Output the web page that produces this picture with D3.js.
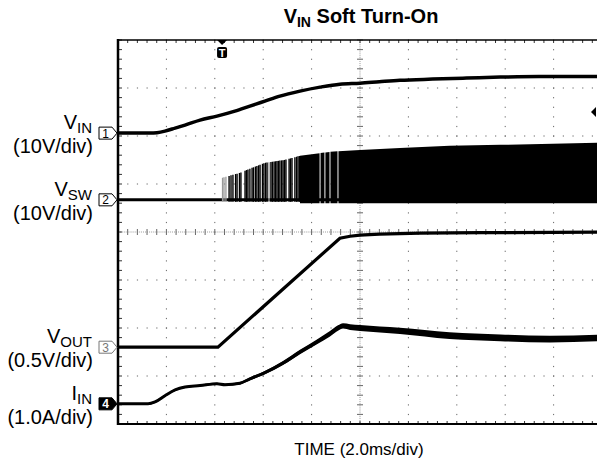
<!DOCTYPE html>
<html><head><meta charset="utf-8">
<script src="https://cdn.jsdelivr.net/npm/d3@7"></script>
<style>body{margin:0;background:#fff} text{font-family:"Liberation Sans",Arial,Helvetica,sans-serif}</style>
</head><body><svg id="c" width="597" height="463"></svg>
<script>
// ---- data (time in ms, 2.0 ms/div) ----
const vinT = [0, 1.32, 1.61, 1.94, 2.36, 2.77, 3.39, 4.09, 4.83, 5.45, 6.07, 6.69, 7.52, 8.35, 9.17, 10.0, 10.8, 11.65, 13.0, 14.4, 15.8, 17.4, 20];
const vinV = [0, 0, 0.1, 0.42, 1.04, 1.67, 2.71, 3.54, 4.58, 5.63, 6.67, 7.71, 8.75, 9.58, 10.2, 10.4, 10.7, 11.0, 11.25, 11.46, 11.67, 11.8, 11.8];

const voutT = [0, 4.13, 9.17, 9.59, 10.0, 10.8, 12.5, 15.0, 20];
const voutV = [0, 0, 1.135, 1.156, 1.167, 1.177, 1.1875, 1.193, 1.198];

const iinT = [0, 1.24, 1.53, 1.94, 2.36, 2.77, 3.39, 4.09, 4.42, 5.04, 5.45, 6.07, 6.82, 7.52, 8.22, 8.76, 9.09, 9.30, 9.59, 10.0, 11.65, 13.7, 15.8, 17.85, 20];
const iinA = [0, 0, 0.04, 0.17, 0.29, 0.35, 0.38, 0.42, 0.40, 0.43, 0.52, 0.65, 0.85, 1.08, 1.29, 1.46, 1.58, 1.625, 1.60, 1.58, 1.52, 1.42, 1.375, 1.35, 1.375];
const iinBand = [0.02, 0.02, 0.02, 0.02, 0.02, 0.02, 0.02, 0.02, 0.02, 0.025, 0.03, 0.035, 0.04, 0.045, 0.05, 0.055, 0.055, 0.055, 0.06, 0.06, 0.065, 0.07, 0.07, 0.07, 0.07];

// switch node: individual pulses while sparse, then a dense envelope
const vswPulseT = [4.59, 4.67, 4.75, 4.86, 4.92, 5.02, 5.08, 5.25, 5.31, 5.37, 5.45, 5.54, 5.60, 5.68, 5.74, 5.81, 5.87, 5.97, 6.03, 6.10, 6.16, 6.32, 6.38, 6.45, 6.51, 6.57, 6.63, 6.69, 6.76, 6.82, 6.88, 6.94, 7.07, 7.13, 7.19, 7.31, 7.38, 7.44, 7.50];
const vswGrayPulseT = [4.32, 4.38, 4.46, 6.24];
const vswDenseStart = [7.52, 8.37, 8.57, 8.78, 9.11];
const vswDenseEnd = [8.33, 8.53, 8.74, 9.07, 20];
const vswEnvT = [4.30, 5.04, 5.33, 6.07, 6.90, 7.52, 8.76, 10.0, 11.65, 13.7, 15.8, 20];
const vswEnvV = [4.58, 5.63, 6.25, 7.71, 8.33, 9.17, 10.0, 10.4, 10.8, 11.25, 11.46, 11.9];
const vswLowV = -0.7;

// channels: ground offset (divisions from centre) and units per division
const chNames = ["1", "2", "3", "4"];
const chOffsetDiv = [2.06, 0.67, -2.40, -3.58];
const chPerDiv = [10, 10, 0.5, 1.0];
const chLabel = ["V", "V", "V", "I"];
const chSub = ["IN", "SW", "OUT", "IN"];
const chScaleText = ["(10V/div)", "(10V/div)", "(0.5V/div)", "(1.0A/div)"];

const title = ["V", "IN", " Soft Turn-On"];
const xTitle = "TIME (2.0ms/div)";
const triggerT = 4.3;

// ---- layout ----
const L = 118, R = 602, T = 40, B = 424, W = 597;
const svg = d3.select("#c");
const x = d3.scaleLinear().domain([0, 20]).range([L, R]);
const yDiv = d3.scaleLinear().domain([-4, 4]).range([B, T]);
const yCh = (ch, v) => yDiv(chOffsetDiv[ch] + v / chPerDiv[ch]);

svg.append("defs").append("clipPath").attr("id", "clip")
  .append("rect").attr("x", L).attr("y", T).attr("width", W - L).attr("height", B - T);

// ---- graticule ----
const g = svg.append("g");
const dx = (R - L) / 50, dy = (B - T) / 40;
const minorX = d3.range(0, 51).map(i => L + i * dx).filter(v => v <= W);
const minorY = d3.range(0, 41).map(i => T + i * dy);
const col = "#666";
for (let i = 1; i < 10; i++) {
  const gx = L + i * dx * 5;
  if (gx > W || i === 5) continue;
  minorY.forEach(yy => g.append("rect").attr("x", gx - 0.5).attr("y", yy - 0.5).attr("width", 1).attr("height", 1.2).attr("fill", col));
}
for (let j = 1; j < 8; j++) {
  const gy = T + j * dy * 5;
  if (j === 4) continue;
  minorX.forEach(xx => g.append("rect").attr("x", xx - 0.5).attr("y", gy - 0.5).attr("width", 1.2).attr("height", 1).attr("fill", col));
}
const cx = L + 25 * dx, cy = T + 20 * dy;
minorY.forEach(yy => g.append("line").attr("x1", cx - 3).attr("x2", cx + 3).attr("y1", yy).attr("y2", yy).attr("stroke", col).attr("stroke-width", 1));
d3.range(0, 200).map(i => T + i * dy / 5).forEach(yy => g.append("rect").attr("x", cx - 0.5).attr("y", yy).attr("width", 1).attr("height", 0.8).attr("fill", "#888"));
minorX.forEach(xx => g.append("line").attr("x1", xx).attr("x2", xx).attr("y1", cy - 3).attr("y2", cy + 3).attr("stroke", col).attr("stroke-width", 1));
d3.range(0, 250).map(i => L + i * dx / 5).filter(v => v <= W).forEach(xx => g.append("rect").attr("x", xx).attr("y", cy - 0.5).attr("width", 0.8).attr("height", 1).attr("fill", "#888"));
minorX.forEach(xx => {
  g.append("line").attr("x1", xx).attr("x2", xx).attr("y1", T).attr("y2", T + 3).attr("stroke", "#333");
  g.append("line").attr("x1", xx).attr("x2", xx).attr("y1", B).attr("y2", B - 3).attr("stroke", "#333");
});
minorY.forEach(yy => g.append("line").attr("x1", L).attr("x2", L + 4).attr("y1", yy).attr("y2", yy).attr("stroke", "#333"));

// ---- traces ----
const tr = svg.append("g").attr("clip-path", "url(#clip)");

tr.append("line").attr("x1", x(0)).attr("x2", x(20)).attr("y1", yCh(1, 0)).attr("y2", yCh(1, 0))
  .attr("stroke", "#000").attr("stroke-width", 3);
const env = d3.scaleLinear().domain(vswEnvT).range(vswEnvV).clamp(true);
vswGrayPulseT.forEach(t => tr.append("line").attr("x1", x(t)).attr("x2", x(t))
  .attr("y1", yCh(1, vswLowV * 0.5)).attr("y2", yCh(1, env(t))).attr("stroke", "#999").attr("stroke-width", 1.3));
vswPulseT.forEach(t => tr.append("line").attr("x1", x(t)).attr("x2", x(t))
  .attr("y1", yCh(1, vswLowV * 0.6)).attr("y2", yCh(1, env(t))).attr("stroke", "#000").attr("stroke-width", 1.4));
const area = d3.area().x(d => x(d)).y0(() => yCh(1, vswLowV)).y1(d => yCh(1, env(d)));
vswDenseStart.forEach((s, i) => {
  const e = vswDenseEnd[i];
  const pts = [s, ...vswEnvT.filter(t => t > s && t < e), e];
  tr.append("path").attr("d", area(pts)).attr("fill", "#000");
});

const line = d3.line().curve(d3.curveMonotoneX);
tr.append("path").attr("d", line(vinT.map((t, i) => [x(t), yCh(0, vinV[i])])))
  .attr("fill", "none").attr("stroke", "#000").attr("stroke-width", 3.5);
tr.append("path").attr("d", d3.line()(voutT.map((t, i) => [x(t), yCh(2, voutV[i])])))
  .attr("fill", "none").attr("stroke", "#000").attr("stroke-width", 3.2);
const iinArea = d3.area().curve(d3.curveMonotoneX).x((d, i) => x(iinT[i]))
  .y0((d, i) => yCh(3, iinA[i] - iinBand[i])).y1((d, i) => yCh(3, iinA[i] + iinBand[i]));
tr.append("path").attr("d", iinArea(iinT)).attr("fill", "#000");
tr.append("path").attr("d", line(iinT.map((t, i) => [x(t), yCh(3, iinA[i])])))
  .attr("fill", "none").attr("stroke", "#000").attr("stroke-width", 3);

// ---- borders ----
svg.append("line").attr("x1", L).attr("x2", W).attr("y1", T).attr("y2", T).attr("stroke", "#000").attr("stroke-width", 1.5);
svg.append("line").attr("x1", L).attr("x2", W).attr("y1", B).attr("y2", B).attr("stroke", "#000").attr("stroke-width", 2);
svg.append("line").attr("x1", L).attr("x2", L).attr("y1", T - 1).attr("y2", B + 1).attr("stroke", "#000").attr("stroke-width", 2.5);

// trigger marker
const tx = x(triggerT);
svg.append("path").attr("d", `M${tx - 5},${T} L${tx + 5},${T} L${tx},${T + 5} Z`).attr("fill", "#000");
svg.append("rect").attr("x", tx - 5).attr("y", T + 7).attr("width", 10).attr("height", 11).attr("rx", 2).attr("fill", "#000");
svg.append("text").attr("x", tx).attr("y", T + 16.5).attr("text-anchor", "middle").attr("fill", "#fff")
  .attr("font-size", 11).attr("font-weight", "bold").text("T");
// trigger level marker on right edge
svg.append("path").attr("d", `M${W - 6},112 L${W - 1},107 L${W - 1},117 Z`).attr("fill", "#000");

// channel markers and labels
chNames.forEach((n, i) => {
  const yy = yCh(i, 0);
  const filled = i === 3;
  const strokeCol = i === 2 ? "#777" : "#000";
  svg.append("path").attr("d", `M99,${yy - 6} H112 L117,${yy} L112,${yy + 6} H99 Z`)
    .attr("fill", filled ? "#000" : "#fff").attr("stroke", strokeCol).attr("stroke-width", 1);
  svg.append("text").attr("x", 105.5).attr("y", yy + 4.5).attr("text-anchor", "middle")
    .attr("font-size", 12).attr("font-weight", filled ? "bold" : "normal")
    .attr("fill", filled ? "#fff" : strokeCol).text(n);
  const lab = svg.append("text").attr("x", 92).attr("y", yy - 4).attr("text-anchor", "end")
    .attr("font-size", 20).attr("fill", "#000");
  lab.append("tspan").text(chLabel[i]);
  lab.append("tspan").attr("font-size", 15).attr("dy", 4).text(chSub[i]);
  svg.append("text").attr("x", 93).attr("y", yy + 20).attr("text-anchor", "end")
    .attr("font-size", 20).attr("fill", "#000").text(chScaleText[i]);
});

// title
const tt = svg.append("text").attr("x", 361).attr("y", 23).attr("text-anchor", "middle")
  .attr("font-size", 20).attr("font-weight", "bold").attr("fill", "#000");
tt.append("tspan").text(title[0]);
tt.append("tspan").attr("font-size", 14).attr("dy", 4).text(title[1]);
tt.append("tspan").attr("dy", -4).text(title[2]);

svg.append("text").attr("x", 359).attr("y", 455).attr("text-anchor", "middle")
  .attr("font-size", 17).attr("fill", "#000").text(xTitle);
</script></body></html>
